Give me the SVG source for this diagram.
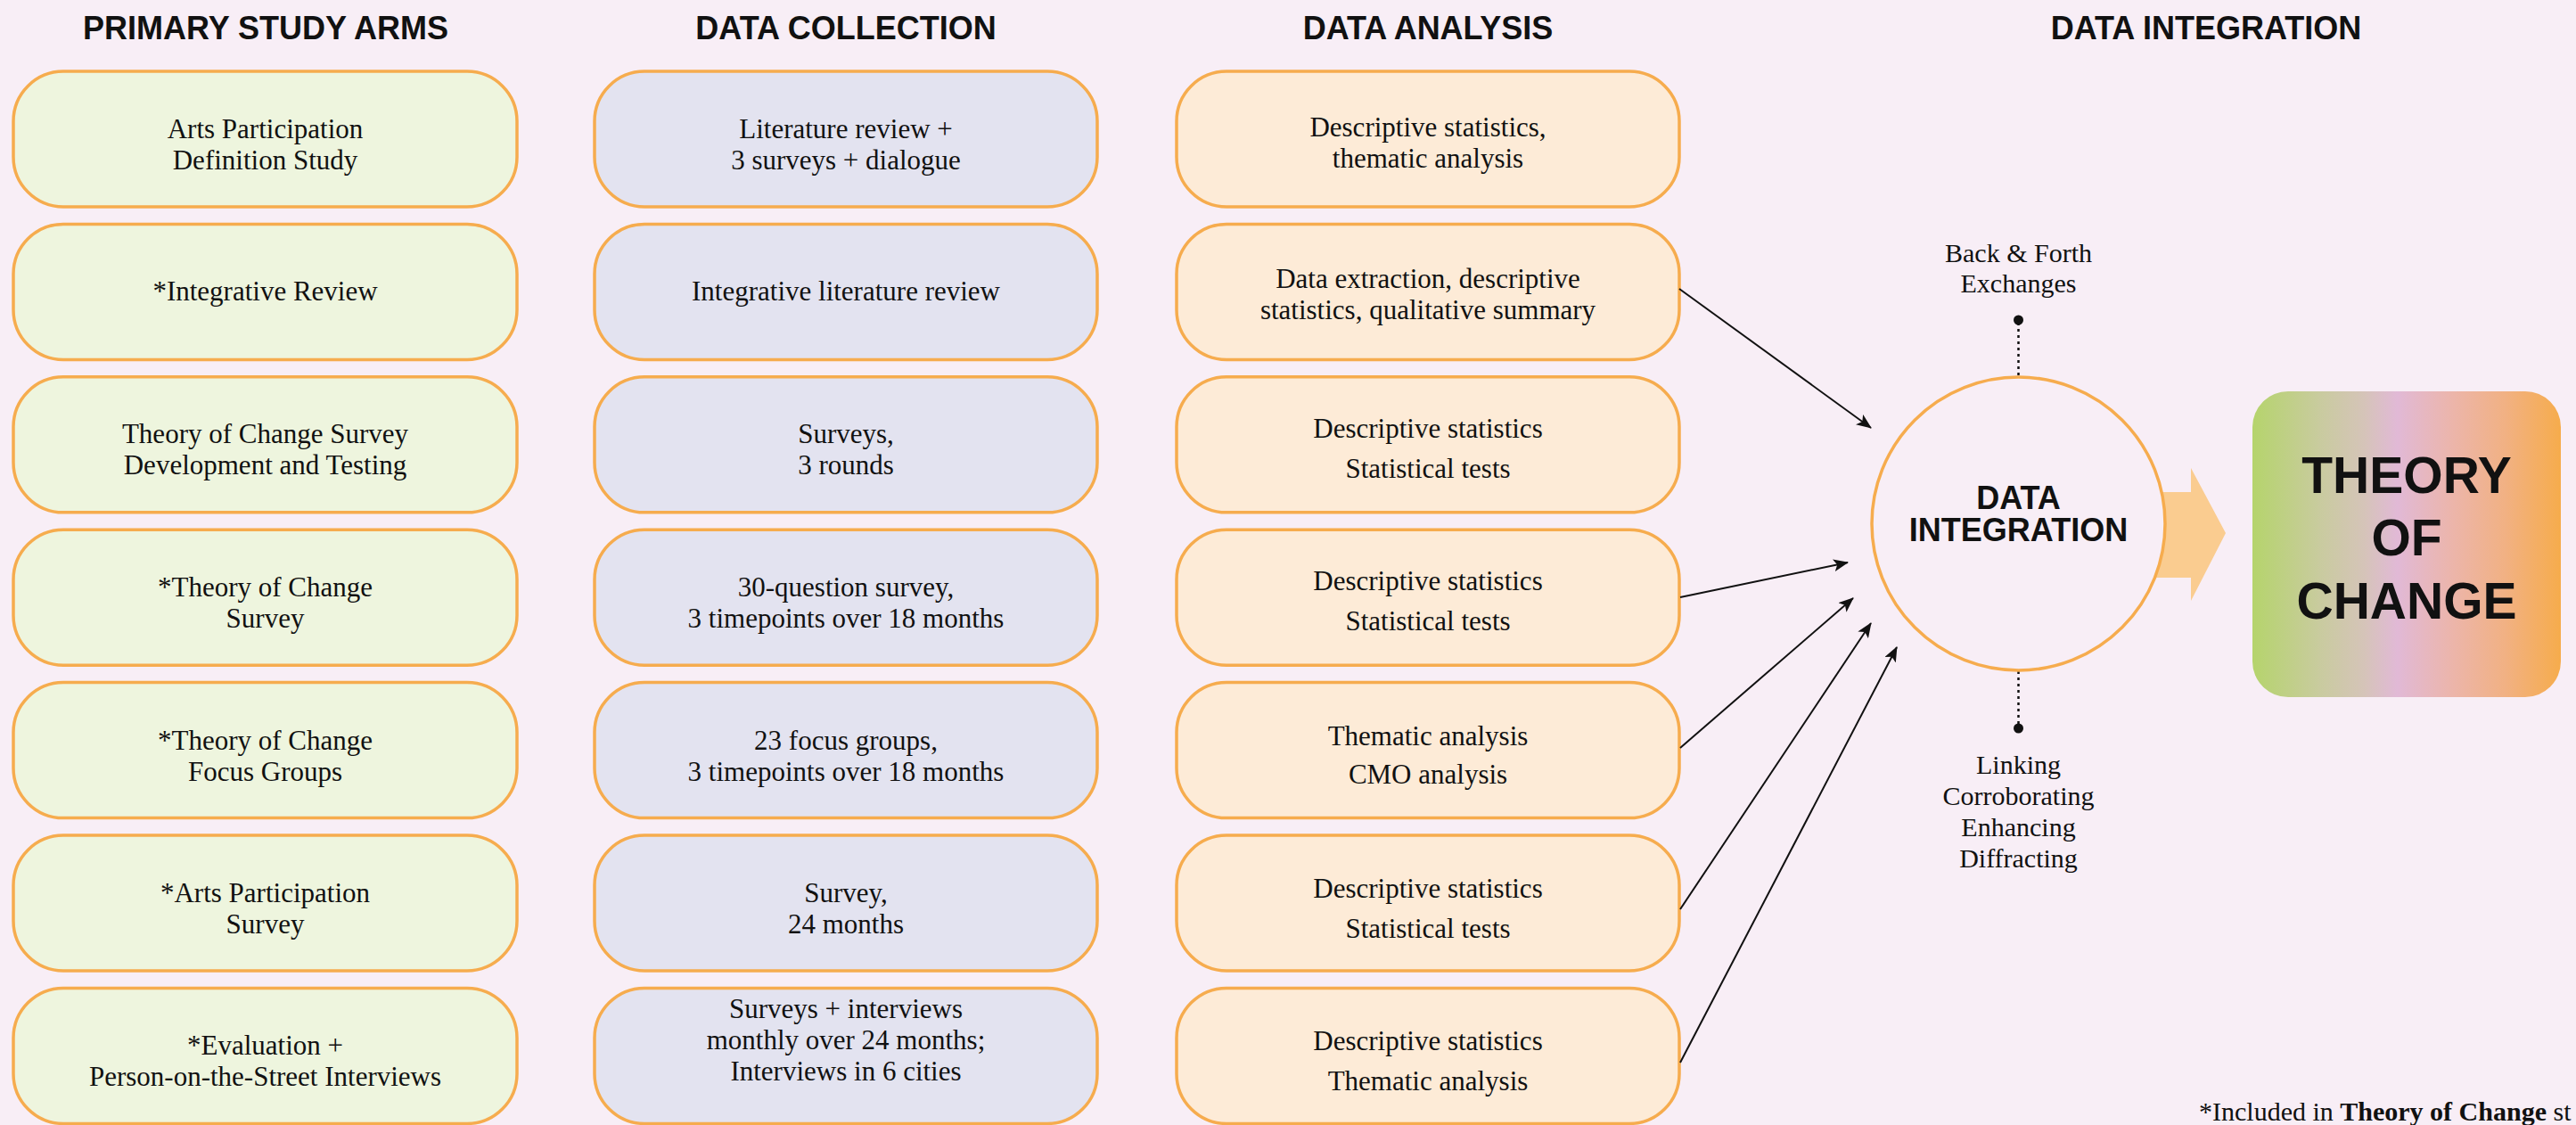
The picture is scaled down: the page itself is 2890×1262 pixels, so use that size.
<svg xmlns="http://www.w3.org/2000/svg" width="2890" height="1262" viewBox="0 0 2890 1262">
<defs>
<style>
.bg{fill:#F8EEF6}
.box{stroke:#F6AC4E;stroke-width:3.5}
.c1{fill:#EEF5DE}
.c2{fill:#E3E3F0}
.c3{fill:#FDEBD7}
.t{font-family:"Liberation Serif","Times New Roman",serif;font-size:31px;fill:#111;text-anchor:middle}
.h{font-family:"Liberation Sans",Arial,sans-serif;font-weight:bold;font-size:36px;fill:#111;text-anchor:middle}
.big{font-family:"Liberation Sans",Arial,sans-serif;font-weight:bold;font-size:57px;fill:#111;text-anchor:middle}
.mid{font-family:"Liberation Sans",Arial,sans-serif;font-weight:bold;font-size:36px;fill:#111;text-anchor:middle}
.conn{stroke:#111;stroke-width:2;fill:none;marker-end:url(#ah)}
.dot{stroke:#111;stroke-width:2.5;stroke-dasharray:3 4;fill:none}
</style>
<marker id="ah" markerUnits="userSpaceOnUse" markerWidth="18" markerHeight="14" refX="16" refY="7" orient="auto">
<path d="M0,0 L17,7 L0,14 L4,7 z" fill="#111"/>
</marker>
<linearGradient id="toc" x1="0" y1="0" x2="1" y2="0">
<stop offset="0" stop-color="#B5D46C"/>
<stop offset="0.22" stop-color="#C9CB9F"/>
<stop offset="0.36" stop-color="#D5C4B8"/>
<stop offset="0.47" stop-color="#E1B9D6"/>
<stop offset="0.65" stop-color="#ECB5AA"/>
<stop offset="0.82" stop-color="#F1B183"/>
<stop offset="1" stop-color="#F6AC4C"/>
</linearGradient>
</defs>
<rect class="bg" x="0" y="0" width="2890" height="1262"/>

<g id="headings">
<text class="h" x="298" y="44">PRIMARY STUDY ARMS</text>
<text class="h" x="949" y="44">DATA COLLECTION</text>
<text class="h" x="1602" y="44">DATA ANALYSIS</text>
<text class="h" x="2475" y="44">DATA INTEGRATION</text>
</g>

<!-- Column 1 -->
<g id="arm1"><rect class="box c1" x="15" y="80" width="565" height="152" rx="56"/><text class="t" x="297.5" y="155">Arts Participation</text><text class="t" x="297.5" y="190">Definition Study</text></g>
<g id="arm2"><rect class="box c1" x="15" y="251.4" width="565" height="152" rx="56"/><text class="t" x="297.5" y="337.4">*Integrative Review</text></g>
<g id="arm3"><rect class="box c1" x="15" y="422.8" width="565" height="152" rx="56"/><text class="t" x="297.5" y="497">Theory of Change Survey</text><text class="t" x="297.5" y="532">Development and Testing</text></g>
<g id="arm4"><rect class="box c1" x="15" y="594.2" width="565" height="152" rx="56"/><text class="t" x="297.5" y="669">*Theory of Change</text><text class="t" x="297.5" y="704">Survey</text></g>
<g id="arm5"><rect class="box c1" x="15" y="765.6" width="565" height="152" rx="56"/><text class="t" x="297.5" y="840.5">*Theory of Change</text><text class="t" x="297.5" y="875.5">Focus Groups</text></g>
<g id="arm6"><rect class="box c1" x="15" y="937" width="565" height="152" rx="56"/><text class="t" x="297.5" y="1012">*Arts Participation</text><text class="t" x="297.5" y="1047">Survey</text></g>
<g id="arm7"><rect class="box c1" x="15" y="1108.4" width="565" height="152" rx="56"/><text class="t" x="297.5" y="1183">*Evaluation +</text><text class="t" x="297.5" y="1218">Person-on-the-Street Interviews</text></g>

<!-- Column 2 -->
<g id="col1"><rect class="box c2" x="667" y="80" width="564" height="152" rx="56"/><text class="t" x="949" y="155">Literature review +</text><text class="t" x="949" y="190">3 surveys + dialogue</text></g>
<g id="col2"><rect class="box c2" x="667" y="251.4" width="564" height="152" rx="56"/><text class="t" x="949" y="337.4">Integrative literature review</text></g>
<g id="col3"><rect class="box c2" x="667" y="422.8" width="564" height="152" rx="56"/><text class="t" x="949" y="497">Surveys,</text><text class="t" x="949" y="532">3 rounds</text></g>
<g id="col4"><rect class="box c2" x="667" y="594.2" width="564" height="152" rx="56"/><text class="t" x="949" y="669">30-question survey,</text><text class="t" x="949" y="704">3 timepoints over 18 months</text></g>
<g id="col5"><rect class="box c2" x="667" y="765.6" width="564" height="152" rx="56"/><text class="t" x="949" y="840.5">23 focus groups,</text><text class="t" x="949" y="875.5">3 timepoints over 18 months</text></g>
<g id="col6"><rect class="box c2" x="667" y="937" width="564" height="152" rx="56"/><text class="t" x="949" y="1012">Survey,</text><text class="t" x="949" y="1047">24 months</text></g>
<g id="col7"><rect class="box c2" x="667" y="1108.4" width="564" height="152" rx="56"/><text class="t" x="949" y="1142">Surveys + interviews</text><text class="t" x="949" y="1177">monthly over 24 months;</text><text class="t" x="949" y="1212">Interviews in 6 cities</text></g>

<!-- Column 3 -->
<g id="ana1"><rect class="box c3" x="1320" y="80" width="564" height="152" rx="56"/><text class="t" x="1602" y="153">Descriptive statistics,</text><text class="t" x="1602" y="188">thematic analysis</text></g>
<g id="ana2"><rect class="box c3" x="1320" y="251.4" width="564" height="152" rx="56"/><text class="t" x="1602" y="323">Data extraction, descriptive</text><text class="t" x="1602" y="358">statistics, qualitative summary</text></g>
<g id="ana3"><rect class="box c3" x="1320" y="422.8" width="564" height="152" rx="56"/><text class="t" x="1602" y="491">Descriptive statistics</text><text class="t" x="1602" y="536">Statistical tests</text></g>
<g id="ana4"><rect class="box c3" x="1320" y="594.2" width="564" height="152" rx="56"/><text class="t" x="1602" y="662">Descriptive statistics</text><text class="t" x="1602" y="707">Statistical tests</text></g>
<g id="ana5"><rect class="box c3" x="1320" y="765.6" width="564" height="152" rx="56"/><text class="t" x="1602" y="836">Thematic analysis</text><text class="t" x="1602" y="879">CMO analysis</text></g>
<g id="ana6"><rect class="box c3" x="1320" y="937" width="564" height="152" rx="56"/><text class="t" x="1602" y="1007">Descriptive statistics</text><text class="t" x="1602" y="1052">Statistical tests</text></g>
<g id="ana7"><rect class="box c3" x="1320" y="1108.4" width="564" height="152" rx="56"/><text class="t" x="1602" y="1178">Descriptive statistics</text><text class="t" x="1602" y="1223">Thematic analysis</text></g>

<!-- Connectors -->
<g id="connectors">
<line class="conn" x1="1884" y1="324" x2="2099" y2="480"/>
<line class="conn" x1="1885" y1="670" x2="2073" y2="631"/>
<line class="conn" x1="1885" y1="839" x2="2079" y2="671"/>
<line class="conn" x1="1885" y1="1020" x2="2099" y2="699"/>
<line class="conn" x1="1885" y1="1192" x2="2128" y2="726"/>
<line class="dot" x1="2264.5" y1="362" x2="2264.5" y2="422"/>
<line class="dot" x1="2264.5" y1="753" x2="2264.5" y2="814"/>
<circle cx="2264.5" cy="359" r="5.5" fill="#111"/>
<circle cx="2264.5" cy="817" r="5.5" fill="#111"/>
<path d="M2380,552 L2458,552 L2458,525 L2497,598 L2458,674 L2458,648 L2380,648 z" fill="#FACC90"/>
</g>

<g id="integration">
<circle cx="2264.5" cy="587.5" r="164.5" fill="#F8EEF6" stroke="#F6AC4E" stroke-width="3.5"/>
<text class="mid" x="2264.5" y="571">DATA</text>
<text class="mid" x="2264.5" y="607">INTEGRATION</text>
</g>

<g id="back-forth">
<text class="t" x="2264.5" y="294" style="font-size:30px">Back &amp; Forth</text>
<text class="t" x="2264.5" y="328" style="font-size:30px">Exchanges</text>
</g>

<g id="modes">
<text class="t" x="2264.5" y="868" style="font-size:30px">Linking</text>
<text class="t" x="2264.5" y="903" style="font-size:30px">Corroborating</text>
<text class="t" x="2264.5" y="938" style="font-size:30px">Enhancing</text>
<text class="t" x="2264.5" y="973" style="font-size:30px">Diffracting</text>
</g>

<g id="theory-of-change">
<rect x="2527" y="439" width="346" height="343" rx="40" fill="url(#toc)"/>
<text class="big" x="2700" y="553">THEORY</text>
<text class="big" x="2700" y="623">OF</text>
<text class="big" x="2700" y="694">CHANGE</text>
</g>

<g id="footnote">
<text x="2467" y="1257" style="font-family:'Liberation Serif','Times New Roman',serif;font-size:30px;fill:#111">*Included in <tspan font-weight="bold">Theory of Change</tspan> st</text>
</g>
</svg>
